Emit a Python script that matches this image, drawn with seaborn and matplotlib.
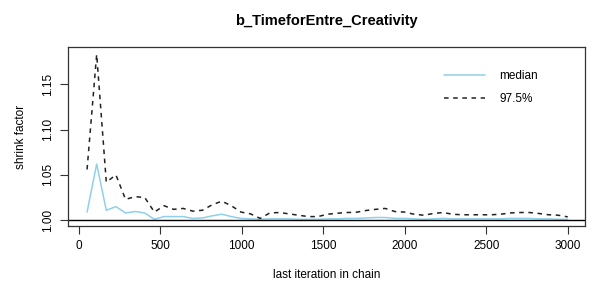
import numpy as np
import pandas as pd
import seaborn as sns
import matplotlib.pyplot as plt

iterations = [51, 110, 169, 228, 287, 346, 405, 464, 523, 582,
              641, 700, 759, 818, 877, 936, 995, 1054, 1113, 1172,
              1231, 1290, 1349, 1408, 1467, 1526, 1585, 1644, 1703, 1762,
              1821, 1880, 1939, 1998, 2057, 2116, 2175, 2234, 2293, 2352,
              2411, 2470, 2529, 2588, 2647, 2706, 2765, 2824, 2883, 2942, 3000]

median = [1.009, 1.062, 1.011, 1.015, 1.008, 1.0096, 1.008, 1.001, 1.004, 1.004,
          1.004, 1.002, 1.0025, 1.0048, 1.0066, 1.004, 1.002, 1.0015, 1.001, 1.0015,
          1.0015, 1.0015, 1.001, 1.001, 1.001, 1.0015, 1.0015, 1.002, 1.002, 1.0025,
          1.003, 1.003, 1.002, 1.002, 1.0015, 1.001, 1.0015, 1.002, 1.0015, 1.0015,
          1.0015, 1.0015, 1.0015, 1.0015, 1.002, 1.002, 1.002, 1.0015, 1.0015, 1.001, 1.001]

upper = [1.056, 1.183, 1.042, 1.050, 1.023, 1.026, 1.025, 1.009, 1.016, 1.012,
         1.013, 1.010, 1.011, 1.017, 1.021, 1.016, 1.009, 1.007, 1.002, 1.008,
         1.0085, 1.007, 1.0055, 1.004, 1.004, 1.0066, 1.0077, 1.0085, 1.0088, 1.0107,
         1.012, 1.013, 1.0096, 1.009, 1.0066, 1.0055, 1.0074, 1.0085, 1.0066, 1.006,
         1.006, 1.006, 1.006, 1.0066, 1.008, 1.0085, 1.0085, 1.0074, 1.006, 1.0055, 1.0037]

df = pd.DataFrame({"iter": iterations, "median": median, "upper": upper})

sns.set_style("ticks")
plt.rcParams['font.family'] = ['Liberation Sans', 'DejaVu Sans']
plt.rcParams['text.color'] = 'black'
plt.rcParams['axes.labelcolor'] = 'black'
plt.rcParams['xtick.color'] = 'black'
plt.rcParams['ytick.color'] = 'black'

fig = plt.figure(figsize=(5.95, 2.91), dpi=100)
ax = fig.add_axes([0.114, 0.223, 0.869, 0.615])

sns.lineplot(data=df, x="iter", y="median", ax=ax, color="#8fd0ea", lw=1.1, label="median")
sns.lineplot(data=df, x="iter", y="upper", ax=ax, color="#222222", lw=1.1,
             dashes=False, label="97.5%")
ax.lines[1].set_dashes((3, 3))
ax.axhline(1.0, color="black", lw=1)

ax.set_xlim(-67, 3105)
ax.set_ylim(0.9935, 1.191)
ax.set_xticks([0, 500, 1000, 1500, 2000, 2500, 3000])
ax.set_yticks([1.00, 1.05, 1.10, 1.15])
ax.set_yticklabels(["1.00", "1.05", "1.10", "1.15"], rotation=90, va="center")
ax.tick_params(labelsize=8.5, length=6, width=0.8, color="#333333", pad=4)
for s in ax.spines.values():
    s.set_color("#333333")
    s.set_linewidth(0.9)

ax.set_xlabel("last iteration in chain", fontsize=8.5, labelpad=12)
ax.set_ylabel("shrink factor", fontsize=8.5, labelpad=11)
ax.set_title("b_TimeforEntre_Creativity", fontsize=10.5, fontweight="bold", pad=16)

leg = ax.legend(frameon=False, loc="upper right", bbox_to_anchor=(0.93, 0.93),
                fontsize=8.5, handlelength=3.5, handletextpad=1.2, labelspacing=0.9)

plt.savefig("out.png", dpi=100)
